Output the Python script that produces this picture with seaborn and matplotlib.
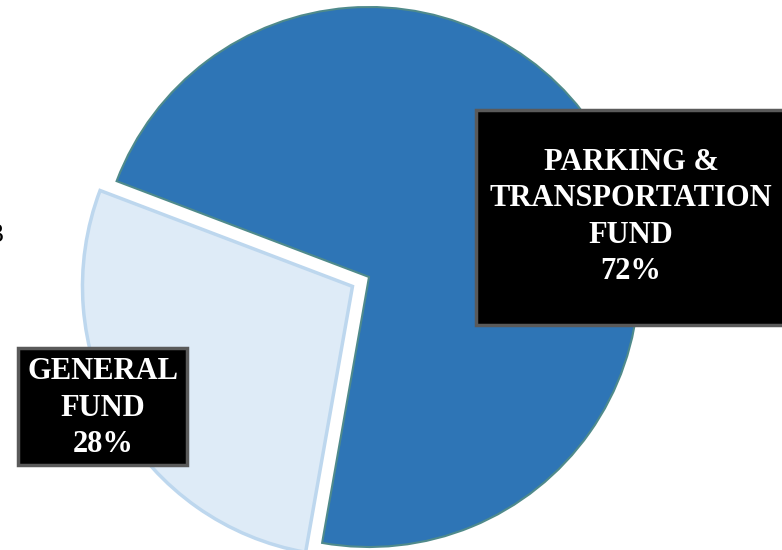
import matplotlib
matplotlib.use("Agg")
import matplotlib.pyplot as plt
from matplotlib.patches import Rectangle
import seaborn as sns

# Fund split
funds = ["PARKING &\nTRANSPORTATION\nFUND", "GENERAL\nFUND"]
shares = [72, 28]
fills = ["#2E75B6", "#DEEBF7"]
edges = ["#4F8A8B", "#BDD7EE"]

sns.set_theme(style="white")
plt.rcParams["font.family"] = ["Liberation Serif", "DejaVu Serif"]

W, H = 782, 550
fig = plt.figure(figsize=(W / 100, H / 100), dpi=100)
ax = fig.add_axes([0, 0, 1, 1])


def py(y):
    """Convert a top-down pixel row into axes data units."""
    return H - y


wedges, _ = ax.pie(
    shares,
    colors=fills,
    startangle=-100,
    counterclock=True,
    explode=[0, 19],
    radius=270,
    center=(369, py(277)),
    frame=True,
)
for w, ec, lw in zip(wedges, edges, [1.5, 2.5]):
    w.set_edgecolor(ec)
    w.set_linewidth(lw)
ax.set_xlim(0, W)
ax.set_ylim(0, H)
ax.set_aspect("equal")
ax.axis("off")

# Label boxes
boxes = [
    (476, 110, 320, 215, 631, 217),
    (18, 348, 169, 117, 103, 408),
]
for (x0, y0, bw, bh, tx, ty), name, share in zip(boxes, funds, shares):
    ax.add_patch(Rectangle((x0, py(y0 + bh)), bw, bh, facecolor="black",
                           edgecolor="#5A5A5A", linewidth=2.5, zorder=5))
    ax.text(tx, py(ty), f"{name}\n{share}%", color="white", fontsize=22,
            fontweight="bold", ha="center", va="center", linespacing=1.33,
            zorder=6)

# Fragment of text at the left margin
ax.text(-10, py(236), "3", color="black", fontsize=20, ha="left", va="center")

fig.savefig("out.png", dpi=100)
